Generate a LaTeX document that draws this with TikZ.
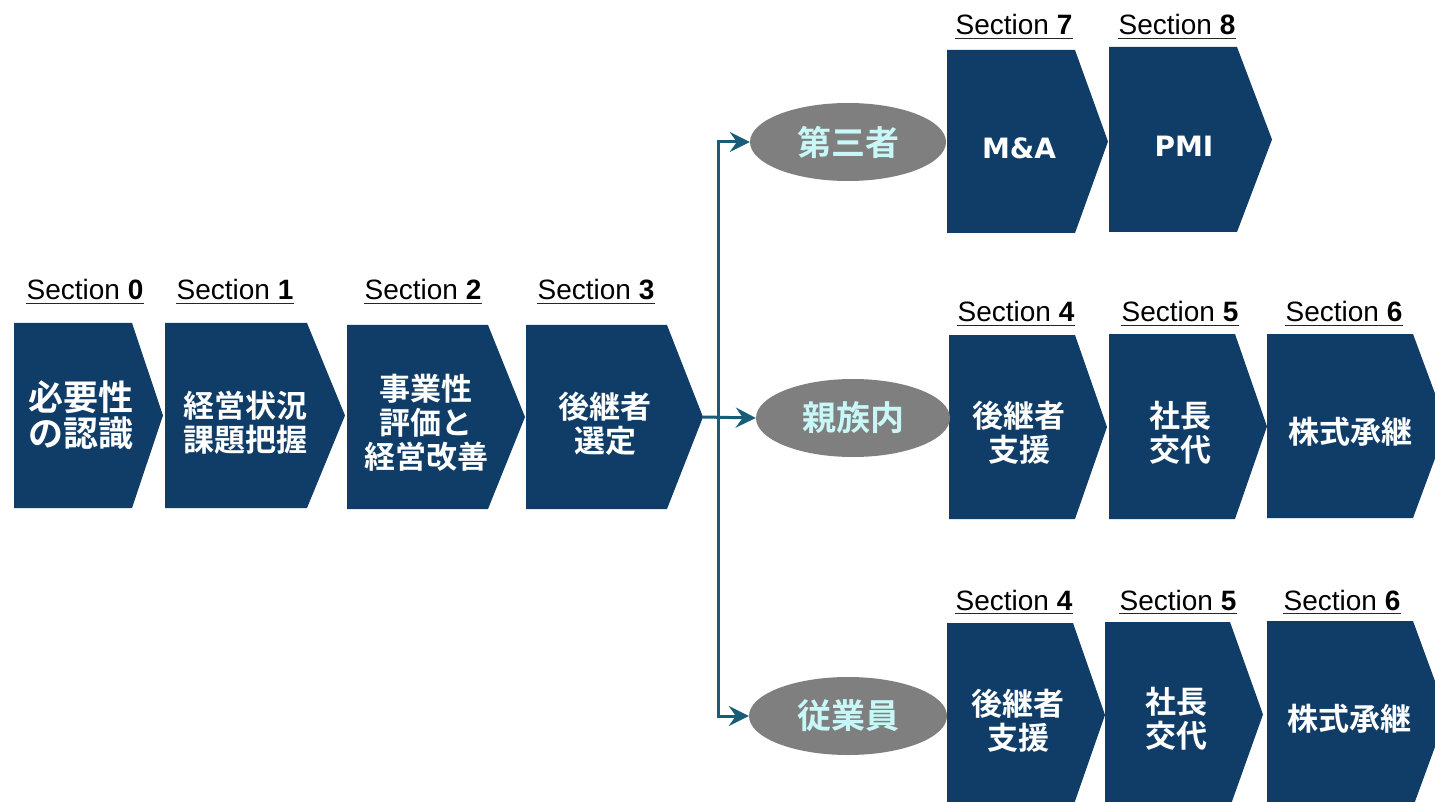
\documentclass[tikz,border=0pt]{standalone}
\usepackage{fontspec}
\setmainfont{Liberation Sans}
\newfontfamily\jp{Noto Sans CJK JP}[BoldFont={Noto Sans CJK JP Bold}]
\newfontfamily\lat{DejaVu Sans}
\usetikzlibrary{arrows.meta,shapes.geometric}
\definecolor{boxblue}{RGB}{16,61,104}
\definecolor{ovalgray}{RGB}{127,127,127}
\definecolor{ovaltext}{RGB}{200,247,247}
\definecolor{conncol}{RGB}{24,92,120}
\tikzset{
  boxtext/.style={text=white,align=center,font=\jp\bfseries\fontsize{31}{34}\selectfont,inner sep=0pt},
  bigtext/.style={boxtext,font=\jp\bfseries\fontsize{35}{36}\selectfont},
  lattext/.style={text=white,font=\lat\bfseries\fontsize{28}{30}\selectfont,inner sep=0pt},
  sec/.style={anchor=base,inner sep=0pt,font=\fontsize{28}{30}\selectfont,text=black},
  secline/.style={line width=1.5pt,black!85},
  oval/.style={ellipse,fill=ovalgray,minimum width=196pt,minimum height=78pt,inner sep=0pt,
     text=ovaltext,font=\jp\bfseries\fontsize{34}{36}\selectfont},
  conn/.style={conncol,line width=3pt,line join=miter},
  tip/.style={-{Stealth[length=20pt,width=20pt,inset=7pt]}}
}
% name, left, top, corner x, tip x, bottom
\newcommand\chevbox[6]{%
  \fill[boxblue] (#2,#3) -- (#4,#3) -- (#5,{(#3+#6)/2}) -- (#4,#6) -- (#2,#6) -- cycle;
  \coordinate (#1tip) at (#5,{(#3+#6)/2});
}
\newcommand\seclabel[4]{%
  \node[sec] (#1) at (#2,#3) {Section \textbf{#4}};
  \draw[secline] ([yshift=-3.5pt]#1.base west) -- ([yshift=-3.5pt]#1.base east);
}
\begin{document}
\begin{tikzpicture}[x=1pt,y=-1pt]
\useasboundingbox (0,0) rectangle (1435,802);
\fill[white] (0,0) rectangle (1435,802);
\clip (0,0) rectangle (1435,802);

% main row
\chevbox{b0}{14}{323}{132}{163}{508}
\chevbox{b1}{165}{323}{307}{345}{508}
\chevbox{b2}{347}{325}{488}{525}{509}
\chevbox{b3}{526}{325}{667}{703}{509}
\node[bigtext] (t0) at (81,415) {必要性\\の認識};
\node[boxtext] (t1) at (245,423) {経営状況\\課題把握};
\node[boxtext] (t2) at (426,423) {事業性\\評価と\\経営改善};
\node[boxtext] (t3) at (605,424) {後継者\\選定};
\seclabel{s0}{85}{300}{0}
\seclabel{s1}{235}{300}{1}
\seclabel{s2}{423}{300}{2}
\seclabel{s3}{596}{300}{3}

% top branch
\chevbox{b7}{947}{50}{1075}{1108}{233}
\chevbox{b8}{1109}{47}{1237}{1272}{232}
\node[lattext] (t7) at (1019,148) {M\&A};
\node[lattext] (t8) at (1184,146) {PMI};
\seclabel{s7}{1014}{35}{7}
\seclabel{s8}{1177}{35}{8}

% middle branch
\chevbox{b4a}{949}{335}{1075}{1107}{519}
\chevbox{b5a}{1109}{334}{1235}{1267}{519}
\chevbox{b6a}{1267}{334}{1413}{1447}{518}
\node[boxtext] (t4a) at (1019,433) {後継者\\支援};
\node[boxtext] (t5a) at (1180,433) {社長\\交代};
\node[boxtext] (t6a) at (1350,432) {株式承継};
\seclabel{s4a}{1016}{322}{4}
\seclabel{s5a}{1180}{322}{5}
\seclabel{s6a}{1344}{322}{6}

% bottom branch
\chevbox{b4b}{947}{623}{1073}{1105}{807}
\chevbox{b5b}{1105}{622}{1230}{1263}{807}
\chevbox{b6b}{1267}{621}{1413}{1447}{807}
\node[boxtext] (t4b) at (1018,721) {後継者\\支援};
\node[boxtext] (t5b) at (1176,719) {社長\\交代};
\node[boxtext] (t6b) at (1349,719) {株式承継};
\seclabel{s4b}{1014}{610}{4}
\seclabel{s5b}{1178}{610}{5}
\seclabel{s6b}{1342}{610}{6}

% ovals
\node[oval] (e1) at (848,142) {第三者};
\node[oval,minimum width=194pt] (e2) at (853,418) {親族内};
\node[oval,minimum width=198pt] (e3) at (848,716) {従業員};

% connectors
\coordinate (j) at (718,418);
\draw[conn,tip] (b3tip) -- (e2.west);
\draw[conn,tip] (j) |- (e1.west);
\draw[conn,tip] (j) |- (e3.west);
\end{tikzpicture}
\end{document}
